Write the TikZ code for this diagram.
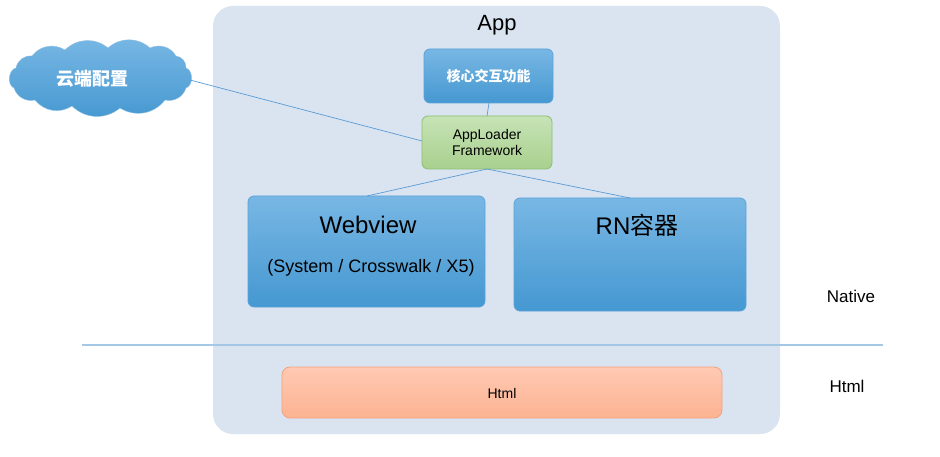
\documentclass[tikz,border=0pt]{standalone}
\usepackage{fontspec}
\setmainfont{Liberation Sans}
\newfontfamily\cjk{Noto Sans CJK SC}
\definecolor{appbg}{HTML}{D9E4F0}
\definecolor{bluetop}{HTML}{78B7E4}
\definecolor{bluebot}{HTML}{4598D1}
\definecolor{blueedge}{HTML}{5DA3D8}
\definecolor{greentop}{HTML}{C6E3B6}
\definecolor{greenbot}{HTML}{A9D08E}
\definecolor{greenedge}{HTML}{8CBF6E}
\definecolor{htmltop}{HTML}{FFC9B3}
\definecolor{htmlbot}{HTML}{FCB392}
\definecolor{htmledge}{HTML}{F4A27C}
\definecolor{linkc}{HTML}{5B9BD5}
\definecolor{divc}{HTML}{A4C7E6}
\tikzset{
  bluebox/.style={draw=blueedge, line width=0.8pt, rounded corners=6pt, top color=bluetop, bottom color=bluebot},
  greenbox/.style={draw=greenedge, line width=0.8pt, rounded corners=6pt, top color=greentop, bottom color=greenbot},
  htmlbox/.style={draw=htmledge, line width=0.8pt, rounded corners=8pt, top color=htmltop, bottom color=htmlbot},
  link/.style={draw=linkc, line width=0.7pt},
  lbl/.style={inner sep=0pt, anchor=center},
  puff/.style={bend left=42},
  bigpuff/.style={bend left=72},
}
\begin{document}
\begin{tikzpicture}[x=1pt,y=-1pt]
\useasboundingbox[fill=white] (0,0) rectangle (940,457);
% App container
\fill[appbg, rounded corners=20pt] (213,6) rectangle (780,434);
\node[lbl, font=\fontsize{22}{26}\selectfont] (apptitle) at (497,25) {App};
% boxes
\draw[bluebox] (424,49) rectangle (553,103);
\node[lbl, text=white, font=\cjk\bfseries\fontsize{14}{16}\selectfont] (core) at (488.5,76) {核心交互功能};
\coordinate (coreS) at (489,103);
\draw[greenbox] (422,116) rectangle (552,169);
\node[lbl, align=center, font=\fontsize{14}{16}\selectfont] (loadertxt) at (487,142.5) {AppLoader\\Framework};
\coordinate (loaderN) at (487,116);
\coordinate (loaderS) at (487,169);
\coordinate (loaderW) at (422,141);
\draw[bluebox] (248,196) rectangle (485,307);
\node[lbl, font=\fontsize{24}{28}\selectfont] (webtitle) at (368,225) {Webview};
\node[lbl, font=\fontsize{18}{22}\selectfont] (websub) at (371,268) {(System / Crosswalk / X5)};
\coordinate (webN) at (367,196);
\draw[bluebox] (514,198) rectangle (746,311);
\node[lbl, font=\fontsize{24}{28}\selectfont] (rn) at (637,225) {RN{\cjk 容器}};
\coordinate (rnN) at (630,198);
\draw[htmlbox] (282,367) rectangle (722,418);
\node[lbl, font=\fontsize{14}{16}\selectfont] (html) at (502,393) {Html};
% cloud
\draw[draw=blueedge!70, line width=0.4pt, top color=bluetop, bottom color=bluebot]
  (16,68) to[puff] (32,56) to[puff] (65,50) to[puff] (108,48) to[puff] (150,48)
  to[puff] (176,56) to[puff] (186,68) to[bigpuff] (186,88) to[puff] (165,100)
  to[puff] (120,108) to[puff] (72,106) to[puff] (35,100) to[puff] (14,88)
  to[bigpuff] cycle;
\node[lbl, text=white, font=\cjk\bfseries\fontsize{18}{20}\selectfont] (cloudtxt) at (92,79) {云端配置};
\coordinate (cloudE) at (190,80);
% connectors
\draw[link] (coreS) -- (loaderN);
\draw[link] (loaderS) -- (webN);
\draw[link] (loaderS) -- (rnN);
\draw[link] (cloudE) -- (loaderW);
% divider
\coordinate (divL) at (82,345);
\coordinate (divR) at (883,345);
\draw[divc, line width=1.2pt] (divL) -- (divR);
\node[lbl, font=\fontsize{17}{20}\selectfont] (native) at (851,296) {Native};
\node[lbl, font=\fontsize{17}{20}\selectfont] (htmlr) at (847,386) {Html};
\end{tikzpicture}
\end{document}
